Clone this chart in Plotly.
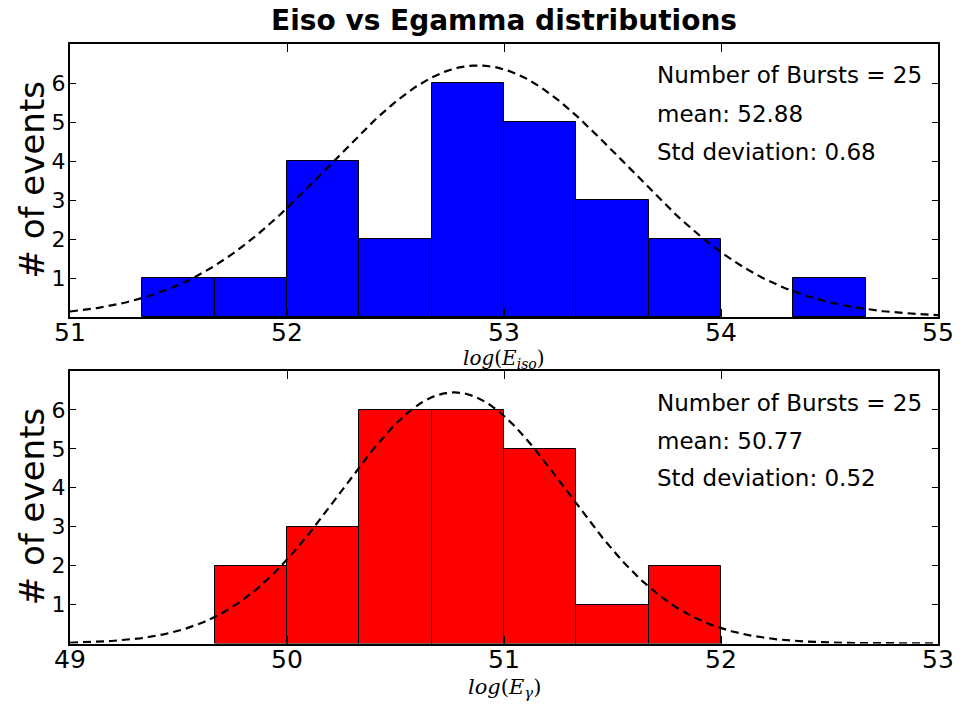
import numpy as np
import plotly.graph_objects as go

# ---------------- data ----------------
BIN_W = 1.0 / 3.0
iso_left = [51.333, 51.667, 52.0, 52.333, 52.667, 53.0, 53.333, 53.667, 54.0, 54.333]
iso_counts = [1, 1, 4, 2, 6, 5, 3, 2, 0, 1]
iso_mean, iso_std, iso_n = 52.88, 0.68, 25
iso_range = [51, 55]

gam_left = [49.667, 50.0, 50.333, 50.667, 51.0, 51.333, 51.667]
gam_counts = [2, 3, 6, 6, 5, 1, 2]
gam_mean, gam_std, gam_n = 50.77, 0.52, 25
gam_range = [49, 53]

curve_peak = 6.45  # height of the fitted gaussian curves
y_ticks = [1, 2, 3, 4, 5, 6]

title = "Eiso vs Egamma distributions"
ylabel = "# of events"
xlabel_iso = "<i>log</i>(<i>E</i><sub><i>iso</i></sub>)"
xlabel_gam = "<i>log</i>(<i>E</i><sub><i>γ</i></sub>)"

W, H = 966, 704
fig = go.Figure()

def add_panel(left, counts, mean, std, xr, color, xa, ya):
    fig.add_trace(go.Bar(
        x=left, y=counts, offset=0, width=BIN_W,
        marker=dict(color=color,
                    line=dict(color="black", width=[1 if c > 0 else 0 for c in counts])),
        xaxis=xa, yaxis=ya, showlegend=False, hoverinfo="skip"))
    xs = np.linspace(xr[0], xr[1], 400)
    ys = curve_peak * np.exp(-(xs - mean) ** 2 / (2 * std ** 2))
    fig.add_trace(go.Scatter(
        x=xs, y=ys, mode="lines",
        line=dict(color="black", width=2.2, dash="8px,5px"),
        xaxis=xa, yaxis=ya, showlegend=False, hoverinfo="skip"))

add_panel(iso_left, iso_counts, iso_mean, iso_std, iso_range, "#0000ff", "x", "y")
add_panel(gam_left, gam_counts, gam_mean, gam_std, gam_range, "#ff0000", "x2", "y2")

xdom = [70 / W, 938 / W]
top_dom = [1 - 317 / H, 1 - 44 / H]
bot_dom = [1 - 643.5 / H, 1 - 371 / H]

def xaxis(rng, dom, anchor):
    return dict(range=rng, domain=dom, anchor=anchor, dtick=1, tick0=rng[0],
                ticks="inside", ticklen=8, tickwidth=1, tickcolor="black",
                mirror="allticks", showline=True, linecolor="black", linewidth=2,
                showgrid=False, zeroline=False, automargin=False,
                ticklabelstandoff=-8,
                tickfont=dict(family="DejaVu Sans", size=25, color="black"))

def yaxis(dom, anchor):
    return dict(range=[0, 7], domain=dom, anchor=anchor, tickvals=y_ticks,
                ticks="inside", ticklen=6, tickwidth=1, tickcolor="black",
                mirror="allticks", showline=True, linecolor="black", linewidth=2,
                showgrid=False, zeroline=False, automargin=False,
                ticklabelstandoff=-2,
                tickfont=dict(family="DejaVu Sans", size=22, color="black"))

fig.update_layout(
    width=W, height=H,
    margin=dict(l=0, r=0, t=0, b=0, autoexpand=False),
    paper_bgcolor="white", plot_bgcolor="white",
    bargap=0,
    xaxis=xaxis(iso_range, xdom, "y"),
    yaxis=yaxis(top_dom, "x"),
    xaxis2=xaxis(gam_range, xdom, "y2"),
    yaxis2=yaxis(bot_dom, "x2"),
)

ann = []
ann.append(dict(text=f"<b>{title}</b>", x=(xdom[0] + xdom[1]) / 2, y=1 - 20 / H,
                xref="paper", yref="paper", showarrow=False, xanchor="center", yanchor="middle",
                font=dict(family="DejaVu Sans", size=28, color="black")))
for dom in (top_dom, bot_dom):
    ann.append(dict(text=ylabel, x=32 / W, y=(dom[0] + dom[1]) / 2, textangle=-90,
                    xref="paper", yref="paper", showarrow=False, xanchor="center", yanchor="middle",
                    font=dict(family="DejaVu Sans", size=34, color="black")))
ann.append(dict(text=xlabel_iso, x=(xdom[0] + xdom[1]) / 2, y=1 - 359 / H,
                xref="paper", yref="paper", showarrow=False, xanchor="center", yanchor="middle",
                borderpad=0, font=dict(family="DejaVu Serif", size=20, color="black")))
ann.append(dict(text=xlabel_gam, x=(xdom[0] + xdom[1]) / 2, y=1 - 688 / H,
                xref="paper", yref="paper", showarrow=False, xanchor="center", yanchor="middle",
                borderpad=0, font=dict(family="DejaVu Serif", size=21, color="black")))

def stats(n, mean, std, xr, yr, ys):
    lines = [f"Number of Bursts = {n}", f"mean: {mean:.2f}", f"Std deviation: {std:.2f}"]
    for t, yy in zip(lines, ys):
        ann.append(dict(text=t, x=0.674, y=yy, xref=xr, yref=yr, showarrow=False,
                        xanchor="left", yanchor="middle",
                        font=dict(family="DejaVu Sans", size=23, color="black")))

stats(iso_n, iso_mean, iso_std, "x domain", "y domain", [0.886, 0.744, 0.604])
stats(gam_n, gam_mean, gam_std, "x2 domain", "y2 domain", [0.883, 0.743, 0.607])

fig.update_layout(annotations=ann)
fig.write_html("out.html", config={"displayModeBar": False},
               post_script="document.body.style.margin='0';")
